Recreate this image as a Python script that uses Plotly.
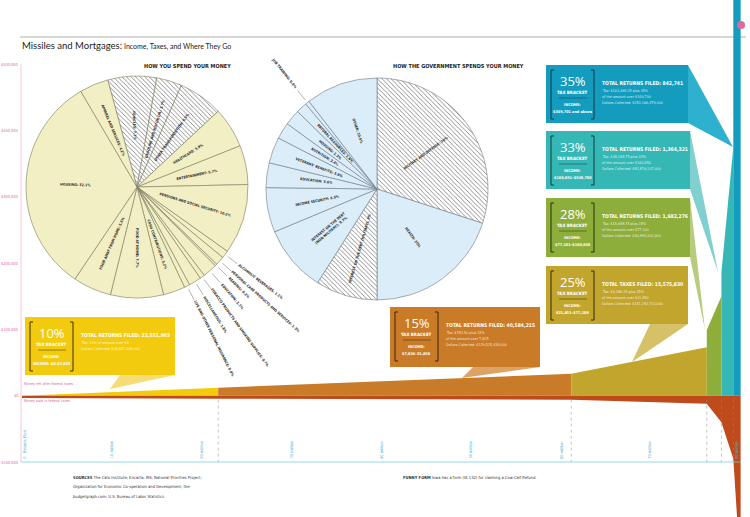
import math
import plotly.graph_objects as go

W, H = 750, 517

# ---------------- data ----------------
BRACKETS = ["10%", "15%", "25%", "28%", "33%", "35%"]
RETURNS_FILED = [22551903, 40584215, 15575830, 1682276, 1364321, 842741]
HEADLINE_PREFIX = ["TOTAL RETURNS FILED", "TOTAL RETURNS FILED", "TOTAL TAXES FILED",
                   "TOTAL RETURNS FILED", "TOTAL RETURNS FILED", "TOTAL RETURNS FILED"]
INCOME_RANGES = ["INCOME: $0–$7,825", "$7,826–31,850", "$31,851–$77,100",
                 "$77,101–$160,850", "$160,851–$349,700", "$349,701 and above"]
TAX_RULE_1 = ["Tax: 10% of amount over $0", "Tax: $782.50 plus 15%", "Tax: $4,386.25 plus 25%",
              "Tax: $15,698.75 plus 28%", "Tax: $38,148.75 plus 33%", "Tax: $101,469.25 plus 35%"]
TAX_RULE_2 = ["", "of the amount over 7,825", "of the amount over $31,850",
              "of the amount over $77,100", "of the amount over $160,850", "of the amount over $349,700"]
DOLLARS_COLLECTED = ["$18,847,308,000", "$129,525,438,000", "$151,292,710,000",
                     "$40,999,302,000", "$82,876,107,000", "$253,166,479,000"]

# money left after federal taxes ($ thousands) at the left / right edge of each bracket column
AFTER_TAX_START_K = [0, 12, 33, 99, 186, 600]
AFTER_TAX_END_K = [12, 33, 73, 150, 375, 600]

# money paid in federal taxes ($ thousands, negative) along the returns axis (millions)
TAX_PAID_X_M = [0, 22.55, 63.14, 78.71, 80.39, 81.76, 82.2, 82.6]
TAX_PAID_K = [-3.5, -4.5, -6, -12, -40, -95, -185, -185]

Y_TICKS = [500000, 400000, 300000, 200000, 100000, 0, -100000]
Y_TICK_TEXT = ["$500,000", "$400,000", "$300,000", "$200,000", "$100,000", "$0", "-$100,000"]
X_TICK_TEXT = ["0   Returns Filed", "10 million", "20 million", "30 million", "40 million",
               "50 million", "60 million", "70 million", "80 million"]
X_TICK_POS_M = [0.3, 10.3, 20.7, 31.0, 41.3, 51.6, 62.0, 72.2, 82.2]

SPEND_LABELS = ["VEHICLES", "GASOLINE AND MOTOR OIL", "OTHER TRANSPORTATION", "HEALTHCARE",
                "ENTERTAINMENT", "PENSIONS AND SOCIAL SECURITY", "ALCOHOLIC BEVERAGES",
                "PERSONAL CARE PRODUCTS AND SERVICES", "READING", "EDUCATION",
                "TOBACCO PRODUCTS AND SMOKING SUPPLIES", "MISCELLANEOUS",
                "LIFE AND OTHER PERSONAL INSURANCE", "CASH CONTRIBUTIONS", "FOOD AT HOME",
                "FOOD AWAY FROM HOME", "HOUSING", "APPAREL AND SERVICES"]
SPEND_VALUES = [7.1, 3.7, 6.5, 5.9, 5.7, 10.2, 1.1, 1.3, 0.3, 2.1, 0.7, 1.8, 0.8, 3.2, 7.7, 5.6, 32.1, 4.2]
SPEND_HATCHED = ["VEHICLES", "GASOLINE AND MOTOR OIL", "OTHER TRANSPORTATION"]
SPEND_OUTSIDE = ["ALCOHOLIC BEVERAGES", "PERSONAL CARE PRODUCTS AND SERVICES", "READING", "EDUCATION",
                 "TOBACCO PRODUCTS AND SMOKING SUPPLIES", "MISCELLANEOUS",
                 "LIFE AND OTHER PERSONAL INSURANCE"]

GOV_LABELS = ["MILITARY AND DEFENSE", "HEALTH", "INTEREST ON THE DEBT (MILITARY)",
              "INTEREST ON THE DEBT<br>(NON-MILITARY)", "INCOME SECURITY", "EDUCATION",
              "VETERANS' BENEFITS", "NUTRITION", "HOUSING", "NATURAL RESOURCES", "JOB TRAINING", "OTHER"]
GOV_VALUES = [30, 20, 9.0, 9.7, 6.5, 3.6, 3.8, 2.4, 2.3, 1.6, 0.6, 10.5]
GOV_HATCHED = ["MILITARY AND DEFENSE", "INTEREST ON THE DEBT (MILITARY)"]
GOV_OUTSIDE = ["JOB TRAINING"]

# ---------------- geometry / style ----------------
X0PX, XPX_PER_M = 22.0, 8.7
Y0PX, YPX_PER_K = 395.7, 0.6633
XR = [(0 - X0PX) / XPX_PER_M, (W - X0PX) / XPX_PER_M]
YR = [-(H - Y0PX) / YPX_PER_K * 1000, Y0PX / YPX_PER_K * 1000]

BOX_COLORS = ["#f2cb0e", "#c97b28", "#c2a52c", "#8eae3c", "#35b7b6", "#139cbd"]
WEDGE_COLORS = ["#f6dc74", "#dca365", "#d6c068", "#b8cc80", "#80d0cf", "#2db1cf"]
BRACKET_INK = ["#3b2c12", "#3b2612", "#2e2a10", "#23300f", "#1b3b3b", "#123848"]
BOX_PX = [(25, 317, 175, 375), (390, 307, 540, 367), (546, 266, 688, 324),
          (546, 198, 690, 257), (546, 131, 690, 189), (546, 65, 688, 123)]
WEDGE_PX = [[(120, 375), (175, 375), (110, 389)],
            [(473, 367), (540, 367), (462, 378)],
            [(650, 324), (688, 324), (632, 362)],
            [(690, 198), (690, 257), (705, 330)],
            [(690, 131), (690, 189), (718, 272)],
            [(688, 65), (688, 123), (733, 147)]]
TAX_RED = "#bf4a1c"
PINK = "#e2689e"
AXIS_BLUE = "#7fcbe3"
NARROW = "Liberation Sans Narrow, DejaVu Sans Condensed, Roboto Condensed, Roboto, sans-serif"


def px(x):
    return x / W


def py(y):
    return 1 - y / H


def path(points):
    return "M " + " L ".join(f"{px(x):.5f},{py(y):.5f}" for x, y in points) + " Z"


fig = go.Figure()
shapes = []
ann = []


def A(x, y, text, size, color="#222", family=NARROW, xanchor="center", yanchor="middle",
      xref="paper", yref="paper", angle=0):
    ann.append(dict(xref=xref, yref=yref, x=x, y=y, text=text, showarrow=False, xanchor=xanchor,
                    yanchor=yanchor, textangle=angle, font=dict(family=family, size=size, color=color)))


# header lines
shapes.append(dict(type="line", xref="paper", yref="paper", x0=px(20), x1=px(746), y0=py(37), y1=py(37),
                   line=dict(color="#9a9a9a", width=0.8), layer="below"))
shapes.append(dict(type="circle", xref="paper", yref="paper", x0=px(737), x1=px(745), y0=py(21), y1=py(29),
                   fillcolor=PINK, line=dict(width=0)))

# ---- money left after taxes (columns) ----
cum = [0.0]
for r in RETURNS_FILED:
    cum.append(cum[-1] + r / 1e6)
for i, b in enumerate(BRACKETS):
    x0, x1 = cum[i], cum[i + 1]
    fig.add_trace(go.Scatter(
        x=[x0, x0, x1, x1, x0],
        y=[0, AFTER_TAX_START_K[i] * 1000, AFTER_TAX_END_K[i] * 1000, 0, 0],
        fill="toself", fillcolor=BOX_COLORS[i], mode="lines", line=dict(width=0),
        hoverinfo="skip", showlegend=False))

# ---- money paid in taxes ----
fig.add_trace(go.Scatter(
    x=[TAX_PAID_X_M[0]] + TAX_PAID_X_M + [TAX_PAID_X_M[-1], TAX_PAID_X_M[0]],
    y=[0] + [v * 1000 for v in TAX_PAID_K] + [0, 0],
    fill="toself", fillcolor=TAX_RED, mode="lines", line=dict(width=0),
    hoverinfo="skip", showlegend=False))

# dashed bracket boundaries below zero
for xb in cum[1:-1]:
    shapes.append(dict(type="line", xref="x", yref="y", x0=xb, x1=xb, y0=-6000, y1=-100000,
                       line=dict(color="#8a8a8a", width=0.5, dash="dot")))

# axes drawn by hand
shapes.append(dict(type="line", xref="paper", yref="y", x0=px(21), x1=px(21),
                   y0=-100000, y1=500000, line=dict(color="#f3b9d3", width=0.8)))
for v, t in zip(Y_TICKS, Y_TICK_TEXT):
    A(px(19.5), v, t, 3.9, PINK, xanchor="right", yref="y")
shapes.append(dict(type="line", xref="paper", yref="y", x0=px(21), x1=px(741), y0=-100000, y1=-100000,
                   line=dict(color=AXIS_BLUE, width=0.8)))
for t, xm in zip(X_TICK_TEXT, X_TICK_POS_M):
    A(xm, -98000, t, 4, "#4fb6d8", xref="x", yref="y", yanchor="bottom", angle=-90)
A(px(22), py(384), "Money left after federal taxes", 3.7, PINK, xanchor="left")
A(px(22), py(401), "Money paid in federal taxes", 3.7, PINK, xanchor="left")

# ---- callout boxes ----
for i, b in enumerate(BRACKETS):
    L, T, R, B = BOX_PX[i]
    shapes.append(dict(type="path", xref="paper", yref="paper", path=path(WEDGE_PX[i]),
                       fillcolor=WEDGE_COLORS[i], line=dict(width=0)))
    shapes.append(dict(type="rect", xref="paper", yref="paper", x0=px(L), x1=px(R), y0=py(B), y1=py(T),
                       fillcolor=BOX_COLORS[i], line=dict(width=0)))
    ink = BRACKET_INK[i]
    shapes.append(dict(type="path", xref="paper", yref="paper",
                       path=f"M {px(L+8)},{py(T+5)} L {px(L+5)},{py(T+5)} L {px(L+5)},{py(T+54)} L {px(L+8)},{py(T+54)}",
                       line=dict(color=ink, width=1)))
    shapes.append(dict(type="path", xref="paper", yref="paper",
                       path=f"M {px(L+45)},{py(T+5)} L {px(L+48)},{py(T+5)} L {px(L+48)},{py(T+54)} L {px(L+45)},{py(T+54)}",
                       line=dict(color=ink, width=1)))
    shapes.append(dict(type="line", xref="paper", yref="paper", x0=px(L + 13), x1=px(L + 41), y0=py(T + 33),
                       y1=py(T + 33), line=dict(color=ink, width=0.5)))
    cx = px(L + 26.5)
    A(cx, py(T + 16), b, 13, "white", family="Open Sans")
    A(cx, py(T + 27.5), "<b>TAX BRACKET</b>", 4.4, "white")
    A(cx, py(T + 39.5), "<b>INCOME:</b>", 3.8, "white")
    A(cx, py(T + 46), f"<b>{INCOME_RANGES[i]}</b>", 3.8, "white")
    A(px(L + 54), py(T + 18), f"<b>{HEADLINE_PREFIX[i]}: {RETURNS_FILED[i]:,}</b>", 5.0, "white",
      xanchor="left")
    lines = [TAX_RULE_1[i]] + ([TAX_RULE_2[i]] if TAX_RULE_2[i] else []) + [
        f"Dollars Collected: {DOLLARS_COLLECTED[i]}"]
    for k, ln in enumerate(lines):
        A(px(L + 54), py(T + 26 + 6 * k), ln, 3.7, "rgba(255,255,255,0.85)", xanchor="left")


# ---- pies ----
def add_pie(labels, values, hatched, cx, cy, R, rotation, color, edge):
    fig.add_trace(go.Pie(
        labels=labels, values=values, sort=False, direction="clockwise", rotation=rotation,
        textinfo="none", hoverinfo="label+value",
        domain=dict(x=[px(cx - R), px(cx + R)], y=[py(cy + R), py(cy - R)]),
        marker=dict(colors=[color] * len(labels), line=dict(color=edge, width=0.6),
                    pattern=dict(shape=["\\" if l in hatched else "" for l in labels],
                                 fgcolor="#555555", size=3.2, solidity=0.2)),
        showlegend=False))


def pie_labels(labels, values, outside, cx, cy, R, rotation, fs=3.6, r_in=0.55):
    tot = sum(values)
    a = rotation
    for lab, v in zip(labels, values):
        sweep = v / tot * 360
        mid = a + sweep / 2
        a += sweep
        th = math.radians(mid)
        ux, uy = math.sin(th), -math.cos(th)
        m = mid % 360
        ta = m - 90 if m <= 180 else m - 270
        text = f"<b>{lab}: {v:g}%</b>"
        if lab in outside:
            plain = f"{lab}: {v:g}%"
            Ltxt = len(plain) * fs * 0.58
            r0, r1 = R * 1.03, R * 1.14
            shapes.append(dict(type="line", xref="paper", yref="paper",
                               x0=px(cx + ux * r0), x1=px(cx + ux * r1), y0=py(cy + uy * r0), y1=py(cy + uy * r1),
                               line=dict(color="#666", width=0.5)))
            rc = R * 1.17 + Ltxt / 2
        else:
            rc = R * r_in
        A(px(cx + ux * rc), py(cy + uy * rc), text, fs, "#2b2b2b", angle=ta)


SP_CX, SP_CY, SP_R, SP_ROT = 137, 187, 111, -15.3
GV_CX, GV_CY, GV_R, GV_ROT = 377, 189, 111, 0
add_pie(SPEND_LABELS, SPEND_VALUES, SPEND_HATCHED, SP_CX, SP_CY, SP_R, SP_ROT, "#f2efc4", "#7b7a5e")
add_pie(GOV_LABELS, GOV_VALUES, GOV_HATCHED, GV_CX, GV_CY, GV_R, GV_ROT, "#dbedf9", "#6f7a84")
pie_labels(SPEND_LABELS, SPEND_VALUES, SPEND_OUTSIDE, SP_CX, SP_CY, SP_R, SP_ROT)
pie_labels(GOV_LABELS, GOV_VALUES, GOV_OUTSIDE, GV_CX, GV_CY, GV_R, GV_ROT)

A(px(187), py(66), "<b>HOW YOU SPEND YOUR MONEY</b>", 5.5)
A(px(458), py(66), "<b>HOW THE GOVERNMENT SPENDS YOUR MONEY</b>", 5.5)

# ---- titles / footer ----
A(px(20), py(46), "Missiles and Mortgages:", 9.5, family="Lato", xanchor="left")
A(px(122), py(46.5), "Income, Taxes, and Where They Go", 7, family="Lato", xanchor="left")
src = ["<b>SOURCES</b> The Cato Institute; Encarta; IRS; National Priorities Project;",
       "Organization for Economic Co-operation and Development; the-",
       "budgetgraph.com; U.S. Bureau of Labor Statistics"]
for k, s in enumerate(src):
    A(px(71), py(477 + 9.5 * k), s, 4.1, "#333", xanchor="left")
A(px(401), py(477), "<b>FUNNY FORM</b> Iowa has a form (IA 132) for claiming a Cow-Calf Refund.", 4.1, "#333",
  xanchor="left")

fig.update_layout(
    width=W, height=H, margin=dict(l=0, r=0, t=0, b=0),
    paper_bgcolor="white", plot_bgcolor="white",
    xaxis=dict(range=XR, domain=[0, 1], visible=False, fixedrange=True),
    yaxis=dict(range=YR, domain=[0, 1], visible=False, fixedrange=True),
    shapes=shapes, annotations=ann, showlegend=False,
)
fig.write_html("out.html", config={"displayModeBar": False},
               post_script="document.body.style.margin='0px';document.documentElement.style.margin='0px';")
